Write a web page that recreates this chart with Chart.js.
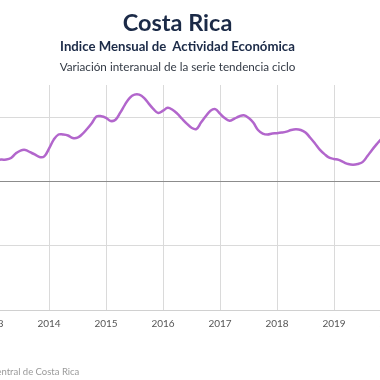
<!DOCTYPE html>
<html>
<head>
<meta charset="utf-8">
<script src="https://cdn.jsdelivr.net/npm/chart.js"></script>
<style>
  html, body { margin: 0; padding: 0; background: #fff; }
  body { width: 380px; height: 380px; overflow: hidden; position: relative; }
  #wrap { position: absolute; left: -58px; top: 0; width: 471px; height: 380px; }
  #chart { position: absolute; left: 0; top: 0; }
  .t { position: absolute; left: 0; width: 471px; text-align: center; font-family: Lato, "Open Sans", sans-serif; white-space: pre; }
  .t1 { top: 11px; font-size: 23.5px; line-height: 23.5px; font-weight: 700; color: #1b2a47; }
  .t2 { top: 39.5px; font-size: 13.2px; line-height: 13.2px; font-weight: 700; color: #1b2a47; }
  .t3 { top: 61px; font-size: 11.7px; line-height: 11.7px; color: #333a45; }
  .src { position: absolute; left: -14px; top: 366px; font-family: Lato, sans-serif; font-size: 9.5px; color: #9a9a9a; white-space: nowrap; }
</style>
</head>
<body>
<div id="wrap">
  <canvas id="chart" width="471" height="380"></canvas>
  <div class="t t1">Costa Rica</div>
  <div class="t t2">Indice Mensual de  Actividad Económica</div>
  <div class="t t3">Variación interanual de la serie tendencia ciclo</div>
  <div class="src">Fuente: Banco Central de Costa Rica</div>
</div>
<script>
// variación interanual, serie tendencia ciclo (ene..dic de cada año)
var startYear = 2013;
var v2013 = [0.65, 0.67, 0.68, 0.68, 0.73, 0.87, 0.96, 0.98, 0.91, 0.84, 0.76, 0.78];
var v2014 = [1.02, 1.30, 1.46, 1.46, 1.43, 1.35, 1.36, 1.47, 1.63, 1.81, 2.02, 2.03];
var v2015 = [1.98, 1.88, 1.92, 2.14, 2.39, 2.60, 2.70, 2.70, 2.60, 2.42, 2.25, 2.13];
var v2016 = [2.20, 2.29, 2.23, 2.11, 1.95, 1.80, 1.67, 1.63, 1.83, 2.03, 2.20, 2.25];
var v2017 = [2.11, 1.97, 1.89, 1.95, 2.02, 2.06, 1.98, 1.83, 1.60, 1.49, 1.46, 1.49];
var v2018 = [1.50, 1.52, 1.55, 1.60, 1.62, 1.60, 1.52, 1.36, 1.18, 0.99, 0.85, 0.74];
var v2019 = [0.70, 0.67, 0.60, 0.54, 0.52, 0.54, 0.60, 0.78, 0.98, 1.16, 1.33, 1.52];
var yearTicks = [2013, 2014, 2015, 2016, 2017, 2018, 2019, 2020];

var years = [v2013, v2014, v2015, v2016, v2017, v2018, v2019];
var points = [];
years.forEach(function (arr, yi) {
  arr.forEach(function (val, mi) {
    points.push({ x: startYear + yi + mi / 12, y: val });
  });
});

var gridGray = '#dadada';

new Chart(document.getElementById('chart'), {
  type: 'line',
  data: {
    datasets: [{
      data: points,
      borderColor: '#b266cc',
      borderWidth: 2.5,
      pointRadius: 0,
      tension: 0.4,
      fill: false
    }]
  },
  options: {
    responsive: false,
    animation: false,
    devicePixelRatio: 1,
    layout: { padding: { top: 85, right: 22, bottom: 30, left: 0 } },
    plugins: { legend: { display: false }, tooltip: { enabled: false } },
    scales: {
      x: {
        type: 'linear',
        min: 2013,
        max: 2020,
        afterFit: function (s) { s.height = 40; },
        afterBuildTicks: function (s) { s.ticks = yearTicks.map(function (y) { return { value: y }; }); },
        grid: { color: gridGray, drawTicks: false },
        border: { display: true, color: '#d0d0d0' },
        ticks: {
          padding: 8,
          color: '#555',
          font: { family: 'Lato', size: 10 },
          callback: function (v) { return String(v); }
        }
      },
      y: {
        min: -4,
        max: 3,
        afterFit: function (s) { s.width = 50; },
        ticks: { stepSize: 2, color: '#555', font: { family: 'Lato', size: 10 } },
        grid: {
          drawTicks: false,
          color: function (c) {
            if (c.tick.value === 0) return '#8c8c8c';
            if (c.tick.value === 3) return 'rgba(0,0,0,0)';
            return gridGray;
          }
        },
        border: { display: false }
      }
    }
  }
});
</script>
</body>
</html>
